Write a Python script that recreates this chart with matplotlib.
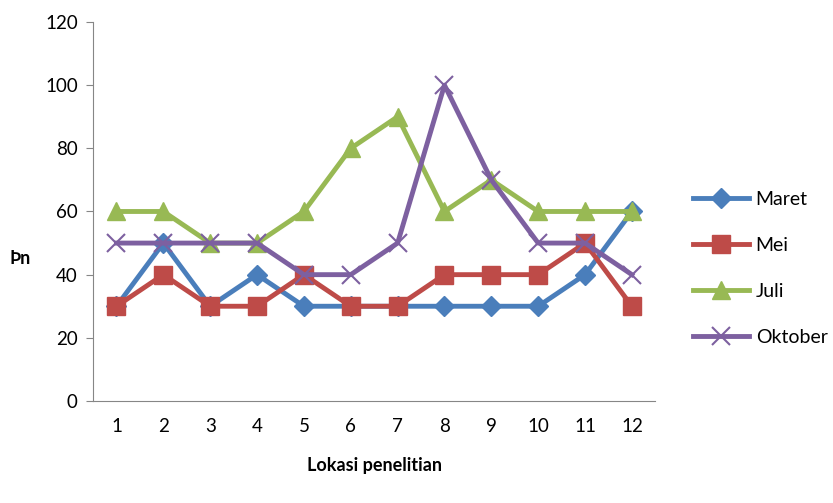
import matplotlib
matplotlib.use("Agg")
import matplotlib.pyplot as plt

plt.rcParams['font.family'] = ['Lato', 'DejaVu Sans']

lokasi = [1, 2, 3, 4, 5, 6, 7, 8, 9, 10, 11, 12]
maret = [30, 50, 30, 40, 30, 30, 30, 30, 30, 30, 40, 60]
mei = [30, 40, 30, 30, 40, 30, 30, 40, 40, 40, 50, 30]
juli = [60, 60, 50, 50, 60, 80, 90, 60, 70, 60, 60, 60]
oktober = [50, 50, 50, 50, 40, 40, 50, 100, 70, 50, 50, 40]

fig = plt.figure(figsize=(8.33, 5.03), dpi=100)
ax = fig.add_axes([0.1117, 0.2028, 0.675, 0.7535])

ax.plot(lokasi, maret, color='#4A7EBB', lw=3.5, marker='D', ms=10, label='Maret')
ax.plot(lokasi, mei, color='#BE4B48', lw=3.5, marker='s', ms=12.5, label='Mei')
ax.plot(lokasi, juli, color='#98B954', lw=3.5, marker='^', ms=13, label='Juli')
ax.plot(lokasi, oktober, color='#7D60A0', lw=3.5, marker='x', ms=13, mew=1.5, label='Oktober')

ax.set_xlim(0.5, 12.5)
ax.set_ylim(0, 120)
ax.set_yticks(range(0, 121, 20))
ax.set_xticks(lokasi)
ax.tick_params(axis='x', length=0, labelsize=13.5, pad=12)
ax.tick_params(axis='y', length=5, color='#868686', labelsize=13.5, pad=6)
for s in ['top', 'right']:
    ax.spines[s].set_visible(False)
for s in ['left', 'bottom']:
    ax.spines[s].set_color('#868686')

ax.set_xlabel('Lokasi penelitian', fontsize=13, fontweight='bold', labelpad=16)
fig.text(0.012, 0.487, 'Þn', fontsize=13, fontweight='bold', va='center')

ax.legend(loc='center left', bbox_to_anchor=(1.035, 0.35), frameon=False,
          fontsize=14, handlelength=2.9, labelspacing=1.5, handletextpad=0.35)

fig.savefig('out.png', dpi=100)
